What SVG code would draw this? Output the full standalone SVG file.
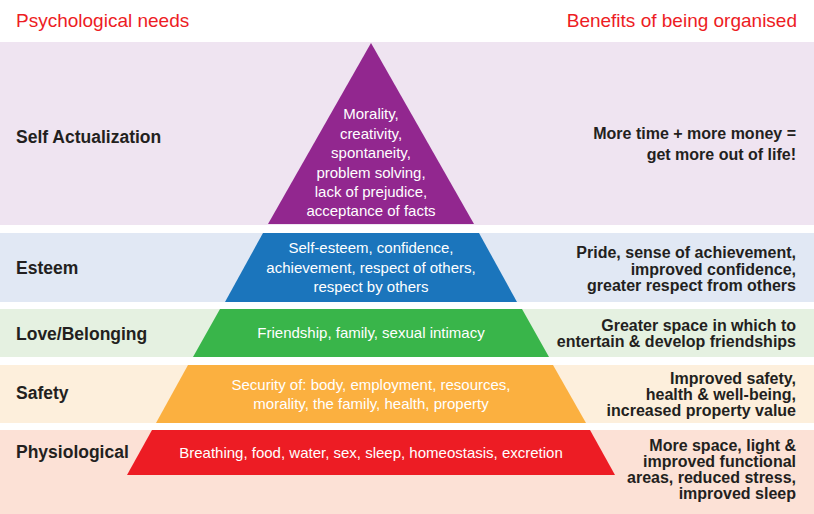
<svg xmlns="http://www.w3.org/2000/svg" width="814" height="514" viewBox="0 0 814 514">
<style>
.hdr{font-family:"Liberation Sans",Arial,sans-serif;font-size:19px;fill:#ed1c24}
.lbl{font-family:"Liberation Sans",Arial,sans-serif;font-size:17.5px;font-weight:bold;fill:#231f20}
.ben{font-family:"Liberation Sans",Arial,sans-serif;font-size:16px;font-weight:bold;fill:#231f20;text-anchor:end}
.in{font-family:"Liberation Sans",Arial,sans-serif;font-size:15px;fill:#ffffff;text-anchor:middle}
</style>
<rect width="814" height="514" fill="#ffffff"/>
<text class="hdr" x="16" y="27">Psychological needs</text>
<text class="hdr" x="797" y="27" text-anchor="end">Benefits of being organised</text>

<g id="self-actualization">
<rect x="0" y="42" width="814" height="183" fill="#efe4f1"/>
<polygon points="371,43 474,224 268,224" fill="#92278f"/>
<text class="lbl" x="16" y="143">Self Actualization</text>
<text class="in" x="371" y="119">Morality,</text>
<text class="in" x="371" y="139">creativity,</text>
<text class="in" x="371" y="158">spontaneity,</text>
<text class="in" x="371" y="178">problem solving,</text>
<text class="in" x="371" y="197">lack of prejudice,</text>
<text class="in" x="371" y="216">acceptance of facts</text>
<text class="ben" x="796" y="139">More time + more money =</text>
<text class="ben" x="796" y="160">get more out of life!</text>
</g>

<g id="esteem">
<rect x="0" y="233" width="814" height="69" fill="#e1e8f4"/>
<polygon points="263,233 479,233 517,302 225,302" fill="#1b75bc"/>
<text class="lbl" x="16" y="274">Esteem</text>
<text class="in" x="371" y="253">Self-esteem, confidence,</text>
<text class="in" x="371" y="273">achievement, respect of others,</text>
<text class="in" x="371" y="292">respect by others</text>
<text class="ben" x="796" y="258">Pride, sense of achievement,</text>
<text class="ben" x="796" y="275">improved confidence,</text>
<text class="ben" x="796" y="291">greater respect from others</text>
</g>

<g id="love-belonging">
<rect x="0" y="309" width="814" height="48" fill="#e5f1e1"/>
<polygon points="220,309 522,309 549,357 193,357" fill="#39b54a"/>
<text class="lbl" x="16" y="340">Love/Belonging</text>
<text class="in" x="371" y="338">Friendship, family, sexual intimacy</text>
<text class="ben" x="796" y="331">Greater space in which to</text>
<text class="ben" x="796" y="347">entertain &amp; develop friendships</text>
</g>

<g id="safety">
<rect x="0" y="365" width="814" height="58" fill="#fdefdc"/>
<polygon points="188,365 553,365 586,423 156,423" fill="#fbb040"/>
<text class="lbl" x="16" y="399">Safety</text>
<text class="in" x="371" y="390">Security of: body, employment, resources,</text>
<text class="in" x="371" y="409">morality, the family, health, property</text>
<text class="ben" x="796" y="384">Improved safety,</text>
<text class="ben" x="796" y="400">health &amp; well-being,</text>
<text class="ben" x="796" y="416">increased property value</text>
</g>

<g id="physiological">
<rect x="0" y="430" width="814" height="84" fill="#fce1d6"/>
<polygon points="152,430 590,430 615,475 127,475" fill="#ed1c24"/>
<text class="lbl" x="16" y="458">Physiological</text>
<text class="in" x="371" y="458">Breathing, food, water, sex, sleep, homeostasis, excretion</text>
<text class="ben" x="796" y="451">More space, light &amp;</text>
<text class="ben" x="796" y="467">improved functional</text>
<text class="ben" x="796" y="483">areas, reduced stress,</text>
<text class="ben" x="796" y="499">improved sleep</text>
</g>
<g id="connectors"/>
</svg>
